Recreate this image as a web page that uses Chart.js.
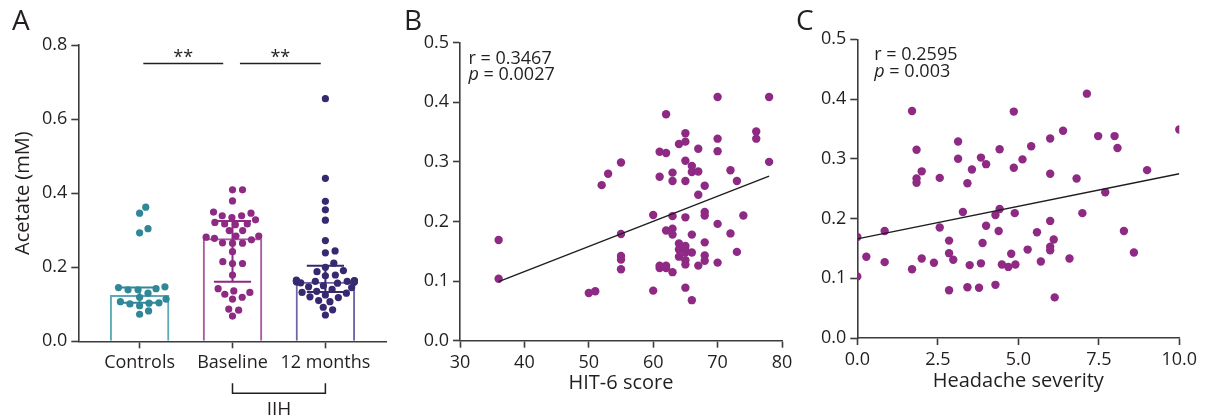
<!DOCTYPE html>
<html>
<head>
<meta charset="utf-8">
<script src="https://cdn.jsdelivr.net/npm/chart.js@4.4.1/dist/chart.umd.min.js"></script>
<style>
    html, body { margin: 0; padding: 0; background: #fff; }
    #wrap { position: relative; width: 1210px; height: 418px; overflow: hidden; }
    #wrap canvas { position: absolute; left: 0; top: 0; }
</style>
</head>
<body>
<div id="wrap">
    <canvas id="chartA" width="1210" height="418"></canvas>
    <canvas id="chartB" width="1210" height="418"></canvas>
    <canvas id="chartC" width="1210" height="418"></canvas>
</div>
<script>
// panel A: acetate by group
const groups = ["Controls", "Baseline", "12 months"];
const controls = [0.362, 0.346, 0.304, 0.293, 0.139, 0.139, 0.147, 0.142, 0.145, 0.130, 0.114, 0.119,
    0.107, 0.104, 0.096, 0.101, 0.103, 0.073, 0.082];
const baseline = [0.409, 0.409, 0.379, 0.349, 0.339, 0.339, 0.346, 0.334, 0.328, 0.321, 0.317, 0.315,
    0.317, 0.299, 0.299, 0.284, 0.284, 0.281, 0.265, 0.266, 0.265, 0.274, 0.278, 0.242, 0.215, 0.210,
    0.210, 0.179, 0.142, 0.127, 0.132, 0.136, 0.114, 0.119, 0.087, 0.084, 0.068];
const months12 = [0.655, 0.440, 0.378, 0.355, 0.327, 0.272, 0.244, 0.239, 0.211, 0.200, 0.191, 0.188,
    0.179, 0.177, 0.165, 0.163, 0.160, 0.162, 0.158, 0.161, 0.164, 0.160, 0.162, 0.157, 0.159, 0.163,
    0.150, 0.147, 0.145, 0.140, 0.135, 0.132, 0.130, 0.125, 0.120, 0.118, 0.110, 0.107, 0.092, 0.085, 0.071];
const medians = [0.125, 0.278, 0.161];
const q1 = [0.104, 0.161, 0.133];
const q3 = [0.145, 0.325, 0.204];
const yTicksA = [0, 0.2, 0.4, 0.6, 0.8];

// panel B: acetate vs HIT-6
const hitScore = [36, 36, 50, 51, 52, 53, 55, 55, 55, 55, 55, 60, 60, 61, 61, 61, 61, 62, 62, 62, 62, 62,
    63, 63, 63, 63, 63, 63, 64, 64, 64, 64, 65, 65, 65, 65, 65, 65, 65, 65, 65, 65, 65, 66, 66, 66, 66, 66,
    67, 67, 67, 67, 68, 68, 68, 68, 68, 68, 70, 70, 70, 70, 70, 72, 72, 73, 73, 74, 76, 76, 78, 78];
const hitAcetate = [0.169, 0.104, 0.080, 0.083, 0.261, 0.280, 0.299, 0.179, 0.142, 0.136, 0.120, 0.211,
    0.084, 0.317, 0.275, 0.126, 0.122, 0.380, 0.315, 0.185, 0.126, 0.122, 0.282, 0.268, 0.209, 0.188,
    0.178, 0.115, 0.330, 0.163, 0.153, 0.141, 0.348, 0.334, 0.302, 0.268, 0.207, 0.159, 0.152, 0.148,
    0.135, 0.128, 0.089, 0.293, 0.283, 0.178, 0.148, 0.068, 0.322, 0.284, 0.245, 0.126, 0.260, 0.216,
    0.210, 0.165, 0.143, 0.134, 0.409, 0.339, 0.318, 0.196, 0.131, 0.286, 0.180, 0.268, 0.149, 0.210,
    0.351, 0.339, 0.409, 0.300];
const hitFitX = [36, 78];
const hitFitY = [0.099, 0.276];
const xTicksB = [30, 40, 50, 60, 70, 80];

// panel C: acetate vs headache severity
const severity = [0, 0, 0.28, 0.85, 0.85, 1.70, 1.70, 1.84, 1.84, 1.84, 2.0, 2.0, 2.38, 2.56, 2.56, 2.85,
    2.85, 2.85, 2.98, 3.13, 3.13, 3.28, 3.42, 3.42, 3.49, 3.56, 3.78, 3.84, 3.84, 3.89, 4.0, 4.0, 4.29,
    4.29, 4.39, 4.42, 4.42, 4.49, 4.69, 4.78, 4.86, 4.86, 4.89, 4.91, 5.13, 5.29, 5.40, 5.58, 5.70, 5.99,
    5.99, 5.99, 5.99, 5.99, 6.10, 6.13, 6.39, 6.59, 6.81, 6.99, 7.13, 7.48, 7.70, 7.99, 8.08, 8.28, 8.59,
    9.0, 10.0];
const sevAcetate = [0.169, 0.103, 0.136, 0.179, 0.127, 0.380, 0.115, 0.315, 0.267, 0.260, 0.279, 0.133,
    0.126, 0.268, 0.185, 0.163, 0.142, 0.080, 0.131, 0.329, 0.300, 0.211, 0.259, 0.085, 0.122, 0.282,
    0.084, 0.302, 0.125, 0.159, 0.291, 0.188, 0.089, 0.206, 0.179, 0.316, 0.216, 0.123, 0.119, 0.141,
    0.379, 0.285, 0.209, 0.123, 0.299, 0.148, 0.321, 0.177, 0.128, 0.334, 0.275, 0.196, 0.153, 0.147,
    0.165, 0.068, 0.347, 0.133, 0.267, 0.209, 0.409, 0.338, 0.244, 0.338, 0.318, 0.179, 0.143, 0.281, 0.349];
const sevFitX = [0, 10];
const sevFitY = [0.166, 0.275];
const xTicksC = [0, 2.5, 5, 7.5, 10];
const yTicksBC = [0, 0.1, 0.2, 0.3, 0.4, 0.5];

const FONT = "'Open Sans', sans-serif";
const TEXT = "#231f20";
const AXIS = "#3d3b3c";
const dotColors = ["#2f8797", "#8f2a84", "#37296f"];
const barColors = ["#5ea9b6", "#a85ba3", "#6e67a3"];
const PURPLE = "#8f2a84";

const toPoints = (xs, ys) => xs.map((x, i) => ({ x, y: ys[i] }));
const fixedTicks = list => s => { s.ticks = list.map(v => ({ value: v })); };

function axis(extra) {
    return Object.assign({
        border: { color: AXIS, width: 1.6 },
        grid: { drawOnChartArea: false, offset: false, tickLength: 7, tickWidth: 1.6, tickColor: AXIS },
        ticks: { color: TEXT, font: { family: FONT, size: 18 }, padding: 4, autoSkip: false, maxRotation: 0 }
    }, extra);
}

// letter, r/p text drawn on top
const panelText = {
    id: "panelText",
    afterDraw(chart, args, opts) {
        const { ctx, chartArea } = chart;
        ctx.save();
        ctx.fillStyle = TEXT;
        ctx.textBaseline = "alphabetic";
        ctx.font = `28px ${FONT}`;
        ctx.fillText(opts.letter, opts.letterX, 30);
        if (opts.r) {
            const x = chartArea.left + opts.dx;
            ctx.font = `18px ${FONT}`;
            ctx.fillText(`r = ${opts.r}`, x, chartArea.top + 21);
            ctx.font = `italic 18px ${FONT}`;
            ctx.fillText("p", x, chartArea.top + 37.5);
            const w = ctx.measureText("p").width;
            ctx.font = `18px ${FONT}`;
            ctx.fillText(` = ${opts.p}`, x + w, chartArea.top + 37.5);
        }
        ctx.restore();
    }
};

// median + IQR whiskers, drawn right after the bars so dots sit on top
const errorBars = {
    id: "errorBars",
    afterDatasetDraw(chart, args) {
        if (args.index !== 0) return;
        const { ctx, scales: { x, y } } = chart;
        const half = x.getPixelForValue(1.2) - x.getPixelForValue(1);
        ctx.save();
        ctx.lineWidth = 2;
        groups.forEach((g, i) => {
            const cx = x.getPixelForValue(i + 1);
            const lo = y.getPixelForValue(q1[i]);
            const hi = y.getPixelForValue(q3[i]);
            ctx.strokeStyle = dotColors[i];
            ctx.beginPath();
            ctx.moveTo(cx, lo); ctx.lineTo(cx, hi);
            ctx.moveTo(cx - half, lo); ctx.lineTo(cx + half, lo);
            ctx.moveTo(cx - half, hi); ctx.lineTo(cx + half, hi);
            ctx.stroke();
        });
        ctx.restore();
    }
};

const sigMarks = {
    id: "sigMarks",
    afterDraw(chart, args, opts) {
        const { ctx, chartArea, scales: { x, y } } = chart;
        ctx.save();
        ctx.strokeStyle = TEXT;
        ctx.fillStyle = TEXT;
        ctx.lineWidth = 1.5;
        const ly = y.getPixelForValue(opts.level);
        ctx.font = `18px ${FONT}`;
        ctx.textAlign = "center";
        opts.pairs.forEach(([a, b]) => {
            const xa = x.getPixelForValue(a), xb = x.getPixelForValue(b);
            ctx.beginPath();
            ctx.moveTo(xa, ly); ctx.lineTo(xb, ly);
            ctx.stroke();
            ctx.fillText(opts.label, (xa + xb) / 2, ly - 1);
        });
        // IIH bracket under Baseline / 12 months
        const b1 = x.getPixelForValue(2), b2 = x.getPixelForValue(3);
        const top = chartArea.bottom + 42, bot = chartArea.bottom + 52;
        ctx.beginPath();
        ctx.moveTo(b1, top); ctx.lineTo(b1, bot); ctx.lineTo(b2, bot); ctx.lineTo(b2, top);
        ctx.stroke();
        ctx.font = `19px ${FONT}`;
        ctx.fillText("IIH", (b1 + b2) / 2, chartArea.bottom + 74);
        ctx.restore();
    }
};

// simple beeswarm in pixel space: closest free offset to the group centre,
// wide rows squeezed so they stay inside the bar
function swarm(chart) {
    const xs = chart.scales.x, ys = chart.scales.y;
    const unit = xs.getPixelForValue(2) - xs.getPixelForValue(1);
    const SW = 10, SH = 7.5, CAP = 29;
    chart.data.datasets.forEach(ds => {
        if (ds.center === undefined) return;
        const placed = [];
        const order = ds.data.map((p, i) => i).sort((a, b) => ds.data[a].y - ds.data[b].y);
        order.forEach(i => {
            const py = ys.getPixelForValue(ds.data[i].y);
            const near = placed
                .filter(p => Math.abs(p.py - py) < SH)
                .map(p => ({ dx: p.dx, w: SW * Math.sqrt(1 - ((p.py - py) / SH) ** 2) }));
            const cands = [0];
            near.forEach(p => cands.push(p.dx + p.w, p.dx - p.w));
            cands.sort((a, b) => Math.abs(a) - Math.abs(b));
            const dx = cands.find(c => near.every(p => Math.abs(c - p.dx) >= p.w - 1e-6));
            placed.push({ py, dx });
            const squeezed = Math.abs(dx) > 20 ? Math.sign(dx) * (20 + (CAP - 20) * Math.tanh((Math.abs(dx) - 20) / (CAP - 20))) : dx;
            ds.data[i].x = ds.center + squeezed / unit;
        });
    });
    chart.update("none");
}

const groupValues = [controls, baseline, months12];

const chartA = new Chart(document.getElementById("chartA"), {
    data: {
        datasets: [
            {
                type: "bar",
                data: medians.map((m, i) => ({ x: i + 1, y: m })),
                backgroundColor: "rgba(255,255,255,0)",
                borderColor: barColors,
                borderWidth: 2,
                borderSkipped: "start",
                categoryPercentage: 1,
                barPercentage: 0.64,
                order: 2
            },
            ...groupValues.map((vals, i) => ({
                type: "scatter",
                center: i + 1,
                data: vals.map(v => ({ x: i + 1, y: v })),
                pointRadius: 3.6,
                pointBackgroundColor: dotColors[i],
                pointBorderWidth: 0,
                order: 1
            }))
        ]
    },
    options: {
        responsive: false,
        animation: false,
        layout: { padding: { left: 8.3, top: 45, right: 823.3, bottom: 16.7 } },
        plugins: {
            legend: { display: false },
            tooltip: { enabled: false },
            panelText: { letter: "A", letterX: 12 },
            sigMarks: { level: 0.75, label: "**", pairs: [[1.04, 1.9], [2.08, 2.95]] }
        },
        scales: {
            x: axis({
                type: "linear", min: 0.34, max: 3.66, offset: false,
                afterBuildTicks: fixedTicks([1, 2, 3]),
                afterFit: s => { s.height = 60; },
                ticks: { color: TEXT, font: { family: FONT, size: 18 }, padding: 4, autoSkip: false, maxRotation: 0,
                    callback: v => groups[v - 1] }
            }),
            y: axis({
                min: 0, max: 0.8,
                afterBuildTicks: fixedTicks(yTicksA),
                afterFit: s => { s.width = 70; },
                ticks: { color: TEXT, font: { family: FONT, size: 18 }, padding: 4, callback: v => v.toFixed(1) },
                title: { display: true, text: "Acetate (mM)", color: TEXT, font: { family: FONT, size: 20 }, padding: { top: 3, bottom: 0 } }
            })
        }
    },
    plugins: [errorBars, sigMarks, panelText]
});
swarm(chartA);

function scatterPanel(id, xs, ys, fitX, fitY, xTicks, xMin, xMax, xTitle, xFmt, pad, text) {
    return new Chart(document.getElementById(id), {
        type: "scatter",
        data: {
            datasets: [
                {
                    data: toPoints(fitX, fitY),
                    showLine: true,
                    borderColor: "#1e1e1e",
                    borderWidth: 1.4,
                    pointRadius: 0,
                    order: 1
                },
                {
                    data: toPoints(xs, ys),
                    pointRadius: 4.2,
                    pointBackgroundColor: PURPLE,
                    pointBorderWidth: 0,
                    order: 2
                }
            ]
        },
        options: {
            responsive: false,
            animation: false,
            layout: { padding: pad },
            plugins: { legend: { display: false }, tooltip: { enabled: false }, panelText: text },
            scales: {
                x: axis({
                    min: xMin, max: xMax,
                    afterBuildTicks: fixedTicks(xTicks),
                    afterFit: s => { s.height = 55; },
                    ticks: { color: TEXT, font: { family: FONT, size: 18 }, padding: 4, autoSkip: false, maxRotation: 0, callback: xFmt },
                    title: { display: true, text: xTitle, color: TEXT, font: { family: FONT, size: 20 }, padding: 0 }
                }),
                y: axis({
                    min: 0, max: 0.5,
                    afterBuildTicks: fixedTicks(yTicksBC),
                    afterFit: s => { s.width = 70; },
                    ticks: { color: TEXT, font: { family: FONT, size: 18 }, padding: 4, callback: v => v.toFixed(1) }
                })
            }
        },
        plugins: [panelText]
    });
}

scatterPanel("chartB", hitScore, hitAcetate, hitFitX, hitFitY, xTicksB, 30, 80, "HIT-6 score", v => String(v),
    { left: 390, top: 42.7, right: 428, bottom: 22.3 },
    { letter: "B", letterX: 404, r: "0.3467", p: "0.0027", dx: 8.5 });

scatterPanel("chartC", severity, sevAcetate, sevFitX, sevFitY, xTicksC, 0, 10, "Headache severity", v => v.toFixed(1),
    { left: 787.3, top: 39.3, right: 30.7, bottom: 25 },
    { letter: "C", letterX: 796, r: "0.2595", p: "0.003", dx: 17 });
</script>
</body>
</html>
